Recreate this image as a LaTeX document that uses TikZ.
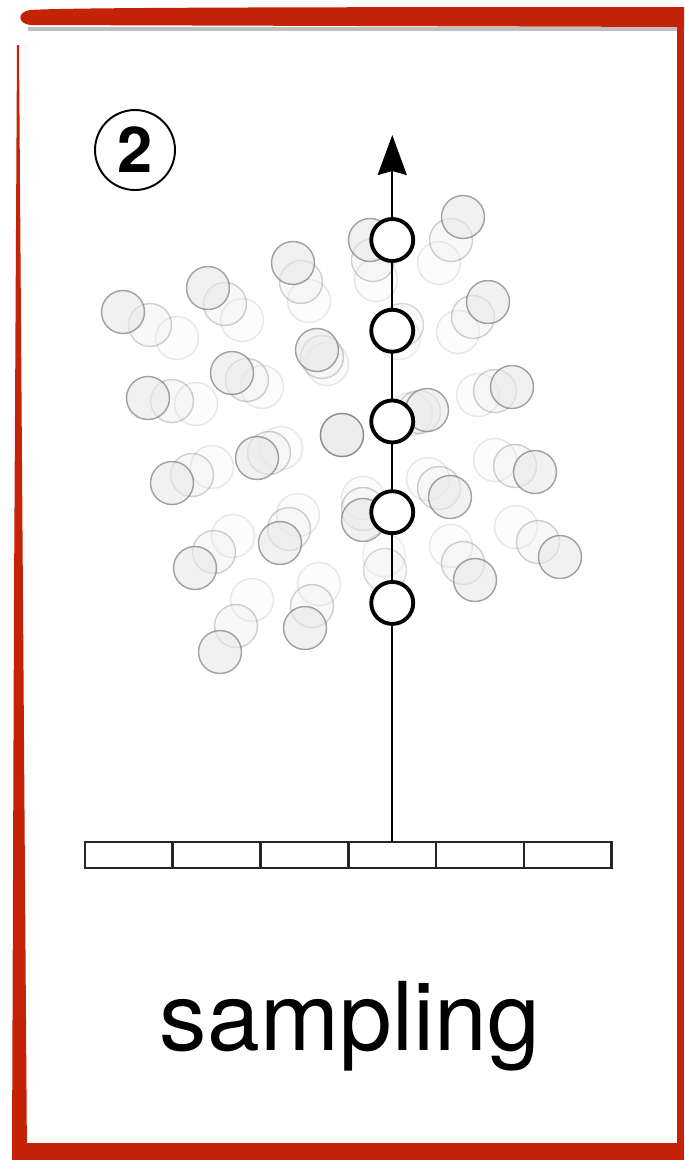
\documentclass[tikz,border=0pt]{standalone}
\usepackage{fontspec}
\setmainfont{TeX Gyre Heros}
\usepackage{xcolor}
\usetikzlibrary{arrows.meta,positioning}
\definecolor{framered}{RGB}{197,35,8}
\tikzset{
  cell/.style={draw=black!85, line width=1.5pt, minimum width=1.756cm, minimum height=0.52cm, inner sep=0pt, outer sep=0pt},
  sample/.style={circle, draw=black, line width=2.2pt, fill=white, minimum size=0.84cm, inner sep=0pt, outer sep=0pt},
  blob/.style={draw=black!60, fill=black!9, line width=0.8pt},
  numcirc/.style={circle, draw=black, line width=1.1pt, minimum size=1.6cm, inner sep=0pt, font=\fontsize{36}{36}\selectfont\bfseries},
  axisarr/.style={-{Stealth[length=0.8cm,width=0.58cm,inset=0.08cm]}, line width=1.2pt}
}

\begin{document}
\begin{tikzpicture}[x=0.02cm,y=-0.02cm]
\useasboundingbox (0,0) rectangle (684,1160);
% frame
\fill[black!25] (28,27) rectangle (677,31);
\fill[framered] (30,10) .. controls (60,8) and (200,7) .. (684,7) -- (684,27) -- (30,25) .. controls (17,23) and (17,12) .. (30,10) -- cycle;
\fill[framered] (677,8) rectangle (684,1160);
\fill[framered] (12,1143) rectangle (684,1160);
\fill[framered] (12,1160) -- (14,600) -- (17,45) -- (19,45) -- (23,600) -- (27,1160) -- cycle;

% drifting samples
\foreach \px/\py/\dx/\dy in {123/312/27/13, 208/288/17/16, 293/263/8/19, 370/240/3/20,
  463/217/-12/23, 488/302/-15/15, 317/350/5/7, 232/373/15/7,
  148/398/24/3, 512/387/-17/4, 342/435/0/0, 427/410/-8/2, 257/458/12/-5,
  172/483/20/-8, 535/472/-20/-6, 450/497/-11/-9, 363/520/0/-11, 280/543/9/-14,
  195/568/19/-16, 560/557/-22/-15, 475/580/-12/-17, 305/628/7/-22, 220/652/16/-26}{
  \draw[blob, opacity=.15] (\px+2*\dx,\py+2*\dy) circle[radius=0.43cm];
  \draw[blob, opacity=.3] (\px+\dx,\py+\dy) circle[radius=0.43cm];
  \draw[blob, opacity=.6] (\px,\py) circle[radius=0.43cm];
}
% faint ones behind the axis
\foreach \px/\py/\dx/\dy in {402/325/-3/13, 385/570/-1/-15}{
  \draw[blob, opacity=.12] (\px+\dx,\py+\dy) circle[radius=0.43cm];
  \draw[blob, opacity=.25] (\px,\py) circle[radius=0.43cm];
}

% grid
\node[cell] (c1) at (128.9,855) {};
\node[cell, right=0pt of c1] (c2) {};
\node[cell, right=0pt of c2] (c3) {};
\node[cell, right=0pt of c3] (c4) {};
\node[cell, right=0pt of c4] (c5) {};
\node[cell, right=0pt of c5] (c6) {};

\coordinate (tip) at (c4.north |- 0,135);
\draw[axisarr] (c4.north) -- (tip);

\node[sample] (s1) at (c4.north |- 0,240) {};
\node[sample, below=0.975cm of s1] (s2) {};
\node[sample, below=0.975cm of s2] (s3) {};
\node[sample, below=0.975cm of s3] (s4) {};
\node[sample, below=0.975cm of s4] (s5) {};

\node[numcirc] (num) at (135,150) {2};
\node[anchor=base, font=\fontsize{54}{54}\selectfont] (lbl) at (350,1050) {sampling};
\end{tikzpicture}
\end{document}
